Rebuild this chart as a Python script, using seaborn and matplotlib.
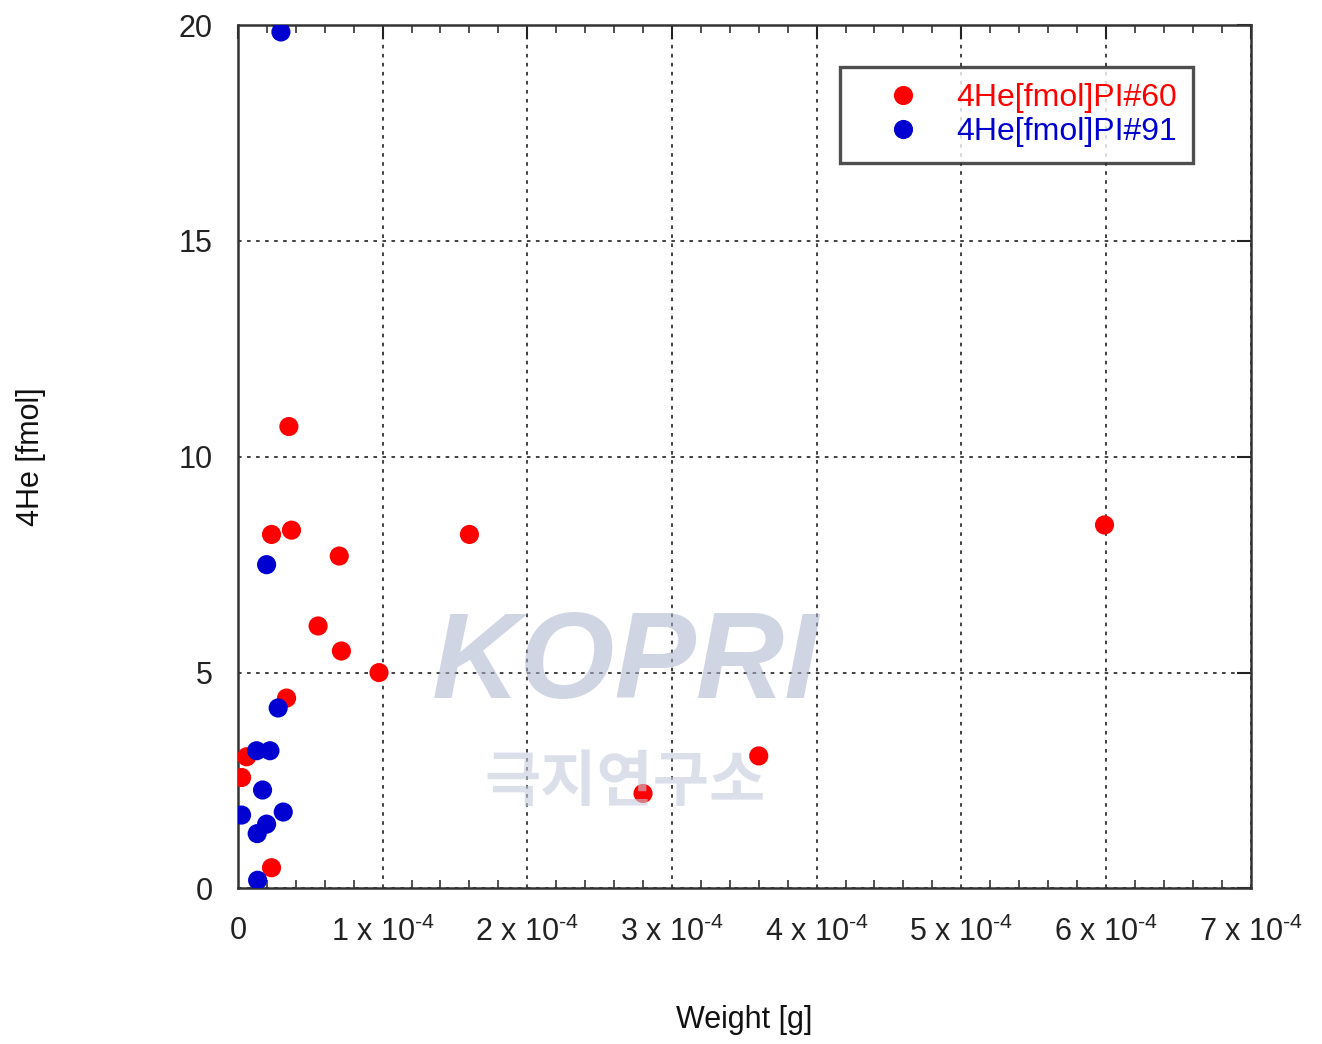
import numpy as np
import pandas as pd
import matplotlib
matplotlib.use("Agg")
import matplotlib.pyplot as plt
import seaborn as sns
from matplotlib.ticker import MultipleLocator, FixedLocator

# ---- data ----
pi60_weight = [0.352e-4, 0.232e-4, 0.37e-4, 0.70e-4, 0.554e-4, 0.715e-4, 0.975e-4,
               0.336e-4, 0.06e-4, 0.025e-4, 0.232e-4, 1.60e-4, 2.80e-4, 3.60e-4, 5.99e-4]
pi60_he = [10.7, 8.2, 8.3, 7.7, 6.08, 5.5, 5.0, 4.41, 3.05, 2.57, 0.48, 8.2, 2.2, 3.07, 8.42]

pi91_weight = [0.297e-4, 0.198e-4, 0.278e-4, 0.129e-4, 0.221e-4, 0.17e-4, 0.025e-4,
               0.313e-4, 0.198e-4, 0.133e-4, 0.136e-4]
pi91_he = [19.84, 7.5, 4.18, 3.19, 3.19, 2.28, 1.70, 1.77, 1.49, 1.27, 0.19]

series_names = ["4He[fmol]PI#60", "4He[fmol]PI#91"]
series_colors = ["#ff0000", "#0000d0"]
xtick_values = [0, 1e-4, 2e-4, 3e-4, 4e-4, 5e-4, 6e-4, 7e-4]
xtick_labels = ["0"] + [r"%d x 10$^{\mathregular{\text{-}4}}$" % i for i in range(1, 8)]
ytick_values = [0, 5, 10, 15, 20]

df = pd.DataFrame({
    "Weight": pi60_weight + pi91_weight,
    "He": pi60_he + pi91_he,
    "Series": [series_names[0]] * len(pi60_weight) + [series_names[1]] * len(pi91_weight),
})

sns.set_theme(style="white")
plt.rcParams['font.family'] = ['Liberation Sans', 'DejaVu Sans']
plt.rcParams['mathtext.fontset'] = 'custom'
plt.rcParams['mathtext.rm'] = 'Liberation Sans'

fig = plt.figure(figsize=(13.22, 10.44), dpi=100)
ax = fig.add_axes([0.180, 0.149, 0.766, 0.827])

# watermark (faint)
fig.text(0.473, 0.362, "KOPRI", fontsize=88, fontweight="bold", fontstyle="italic",
         color="#aab4cc", alpha=0.55, ha="center", va="center", zorder=0)
fig.text(0.473, 0.25, "극지연구소", fontsize=44, fontweight="bold",
         family=["Noto Sans CJK KR", "DejaVu Sans"],
         color="#c3cbdc", alpha=0.6, ha="center", va="center", zorder=0)

sns.scatterplot(data=df, x="Weight", y="He", hue="Series", hue_order=series_names,
                palette=series_colors, s=190, edgecolor="none", ax=ax, zorder=3,
                legend=True)

ax.set_xlim(0, 7e-4)
ax.set_ylim(0, 20)
ax.xaxis.set_major_locator(FixedLocator(xtick_values))
ax.set_xticklabels(xtick_labels)
ax.xaxis.set_minor_locator(MultipleLocator(0.2e-4))
ax.yaxis.set_major_locator(FixedLocator(ytick_values))
ax.set_yticklabels([str(v) for v in ytick_values])

ax.grid(True, which="major", color="#333333", linestyle=(0, (2, 3)), linewidth=1.3)
ax.tick_params(axis="both", which="major", direction="in", length=10, width=1.5,
               top=True, right=True, labelsize=22, colors="#222222")
ax.tick_params(axis="x", which="major", pad=20)
ax.tick_params(axis="y", which="major", pad=18)
ax.tick_params(axis="x", which="minor", direction="in", length=6, width=1.2,
               top=True, bottom=True, colors="#333333")
for sp in ax.spines.values():
    sp.set_visible(True)
    sp.set_color("#333333")
    sp.set_linewidth(1.8)

ax.set_xlabel("Weight [g]", fontsize=22, color="#111111")
ax.xaxis.set_label_coords(0.5, -0.135)
ax.set_ylabel("4He [fmol]", fontsize=22, color="#111111")
ax.yaxis.set_label_coords(-0.19, 0.5)

leg = ax.legend(loc="upper right", bbox_to_anchor=(0.943, 0.951), fontsize=23,
                frameon=True, fancybox=False, edgecolor="#222222",
                markerscale=1.0, handletextpad=0.15, borderpad=0.5,
                labelspacing=0.12, handlelength=3.0, borderaxespad=0)
leg.get_frame().set_linewidth(2.4)
for txt, c in zip(leg.get_texts(), series_colors):
    txt.set_color(c)

fig.savefig("out.png", dpi=100)
